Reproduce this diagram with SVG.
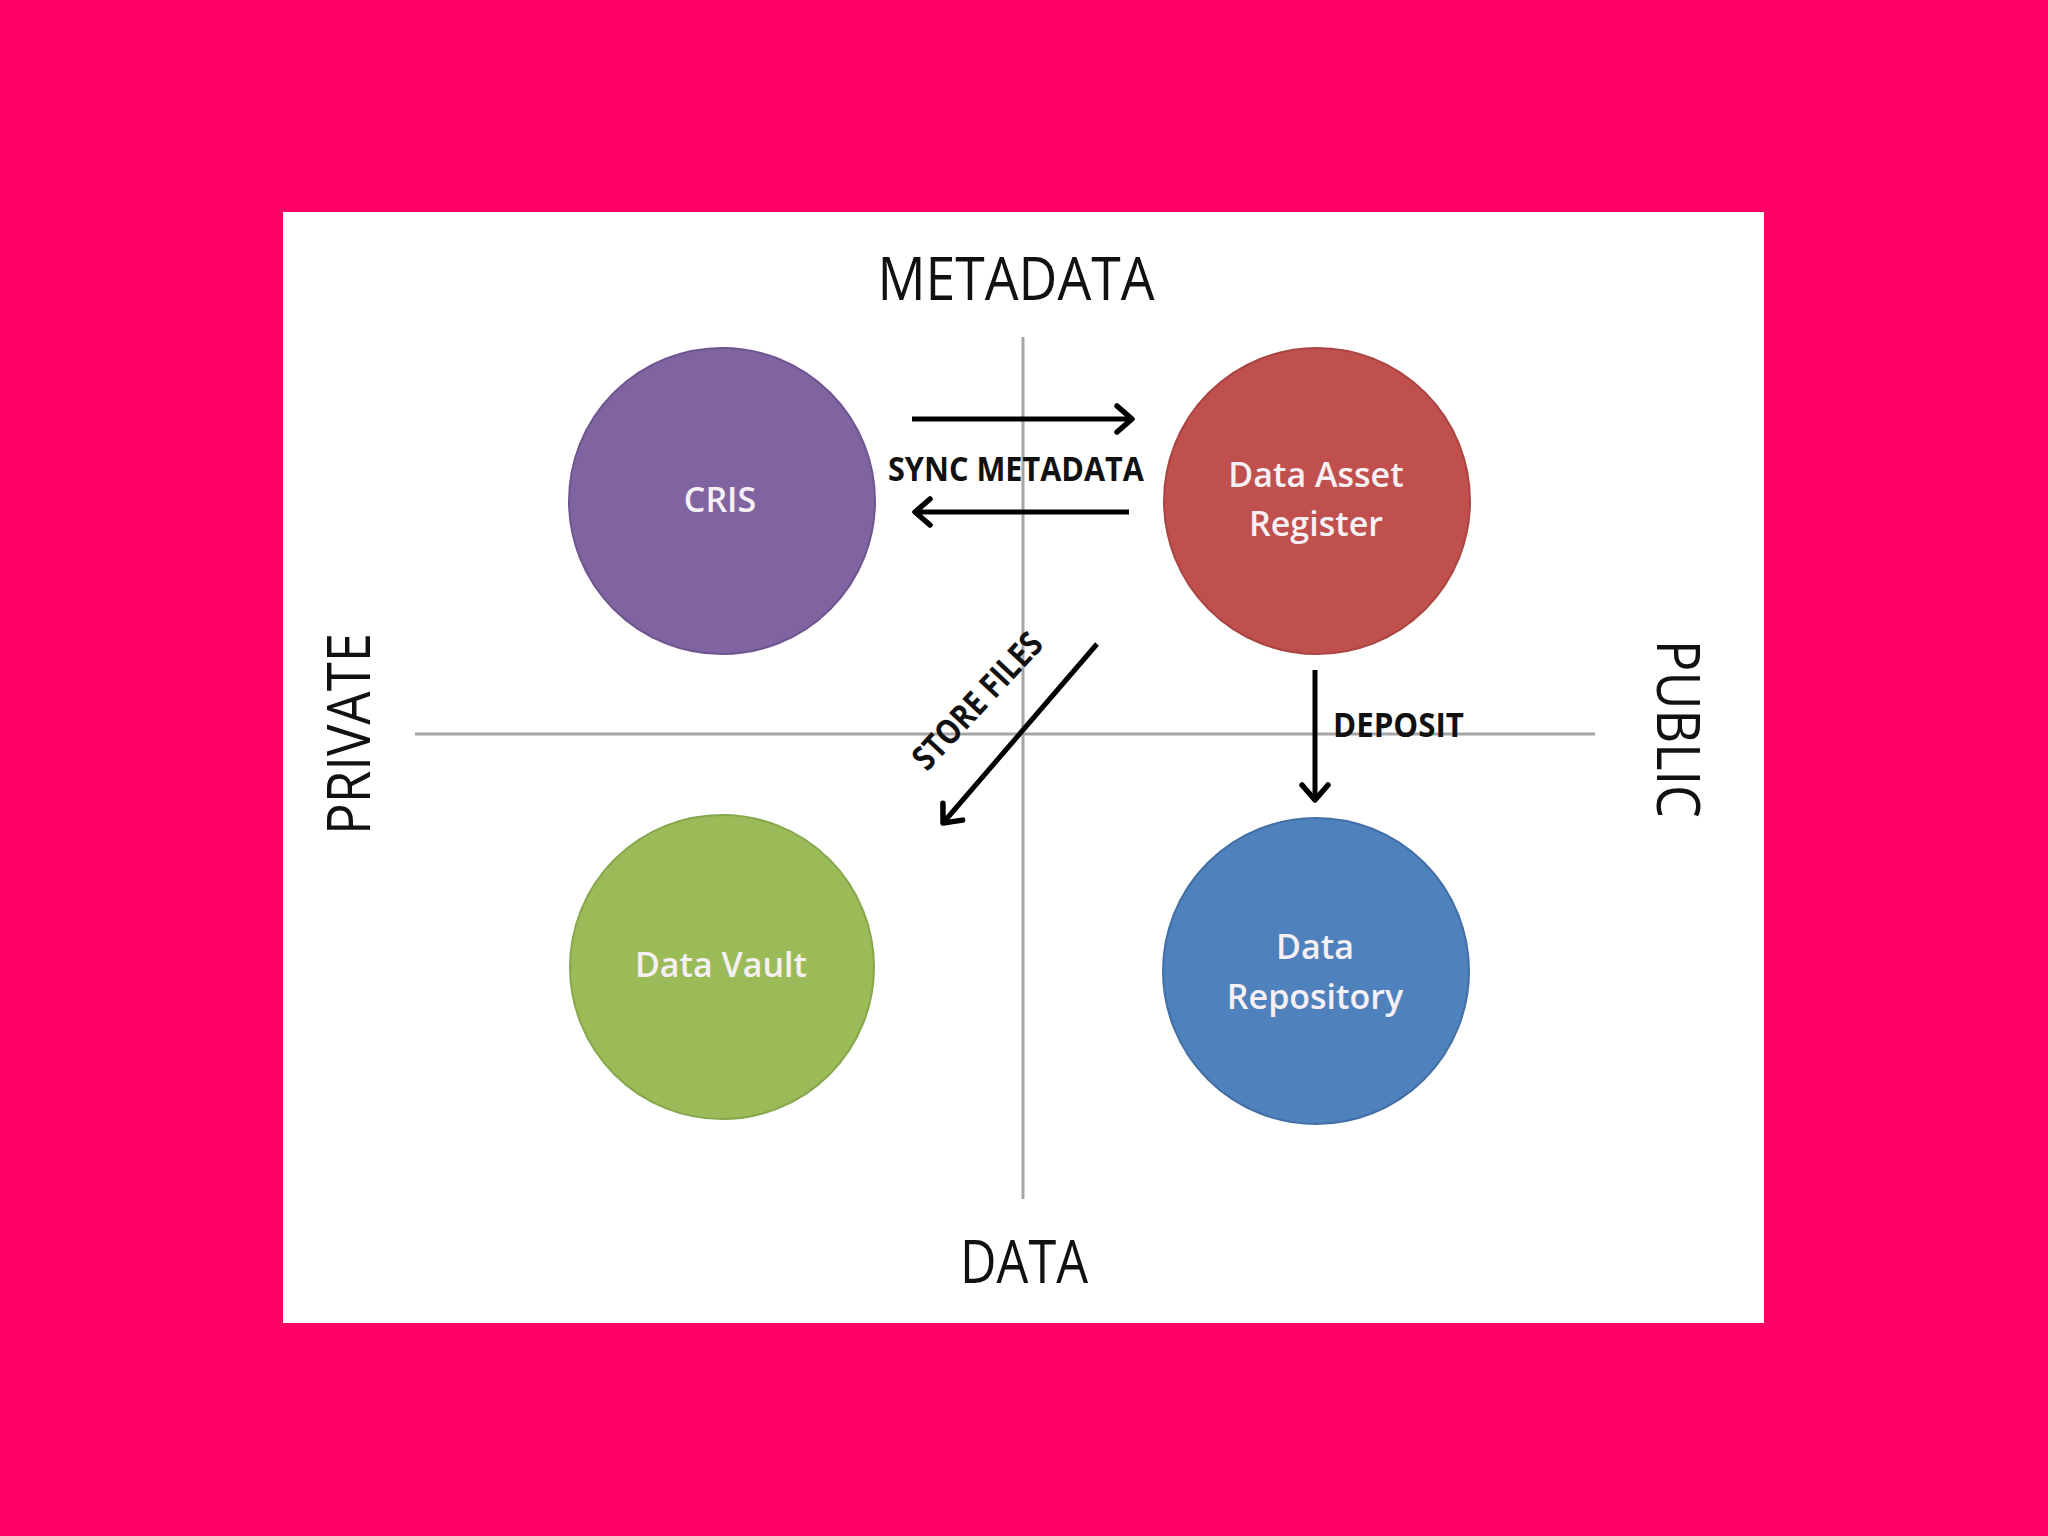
<svg xmlns="http://www.w3.org/2000/svg" width="2048" height="1536" viewBox="0 0 2048 1536">
<style>
.axis{stroke:#a6a6a6;stroke-width:3;fill:none}
.conn{stroke:#000;stroke-width:5;fill:none}
.big{font-family:"Open Sans","Liberation Sans",sans-serif;font-size:60px;fill:#111}
.lbl{font-family:"Open Sans","Liberation Sans",sans-serif;font-weight:bold;font-size:34px;fill:#111}
.node{font-family:"Open Sans","Liberation Sans",sans-serif;font-weight:600;font-size:34px;fill:#f6f0f4;text-anchor:middle}
</style>
<defs>
<marker id="arr" markerUnits="userSpaceOnUse" markerWidth="32" markerHeight="32" viewBox="0 0 32 32" refX="25" refY="16" orient="auto">
<path d="M10,3 L25,16 L10,29" fill="none" stroke="#000" stroke-width="5.5" stroke-linecap="round" stroke-linejoin="round"/>
</marker>
</defs>
<rect width="2048" height="1536" fill="#ff0066"/>
<rect x="283" y="212" width="1481" height="1111" fill="#ffffff"/>
<g id="axes">
<line class="axis" x1="1023" y1="337" x2="1023" y2="1199"/>
<line class="axis" x1="415" y1="734" x2="1595" y2="734"/>
</g>
<g id="axis-labels">
<text class="big" x="1016" y="300" text-anchor="middle" textLength="277" lengthAdjust="spacingAndGlyphs">METADATA</text>
<text class="big" x="1024" y="1283" text-anchor="middle" textLength="128" lengthAdjust="spacingAndGlyphs">DATA</text>
<text class="big" transform="translate(370 734) rotate(-90)" x="0" y="0" text-anchor="middle" textLength="202" lengthAdjust="spacingAndGlyphs">PRIVATE</text>
<text class="big" transform="translate(1657 729) rotate(90)" x="0" y="0" text-anchor="middle" textLength="178" lengthAdjust="spacingAndGlyphs">PUBLIC</text>
</g>
<g id="node-cris">
<circle cx="722" cy="501" r="153" fill="#8064a2" stroke="#6f5590" stroke-width="2"/>
<text class="node" x="720" y="512">CRIS</text>
</g>
<g id="node-dar">
<circle cx="1317" cy="501" r="153" fill="#c0504d" stroke="#a94542" stroke-width="2"/>
<text class="node" x="1316" y="487">Data Asset</text>
<text class="node" x="1316" y="536">Register</text>
</g>
<g id="node-vault">
<circle cx="722" cy="967" r="152" fill="#9bbb59" stroke="#87a74c" stroke-width="2"/>
<text class="node" x="721" y="977">Data Vault</text>
</g>
<g id="node-repo">
<circle cx="1316" cy="971" r="153" fill="#4f81bd" stroke="#426fa6" stroke-width="2"/>
<text class="node" x="1315" y="959">Data</text>
<text class="node" x="1315" y="1009">Repository</text>
</g>
<g id="connectors">
<line class="conn" x1="912" y1="419" x2="1132" y2="419" marker-end="url(#arr)"/>
<line class="conn" x1="1129" y1="512" x2="915" y2="512" marker-end="url(#arr)"/>
<line class="conn" x1="1097" y1="644" x2="943" y2="823" marker-end="url(#arr)"/>
<line class="conn" x1="1315" y1="670" x2="1315" y2="800" marker-end="url(#arr)"/>
</g>
<g id="connector-labels">
<text class="lbl" x="1016" y="481" text-anchor="middle" textLength="256" lengthAdjust="spacingAndGlyphs">SYNC METADATA</text>
<text class="lbl" x="1333" y="737" textLength="131" lengthAdjust="spacingAndGlyphs">DEPOSIT</text>
<text class="lbl" transform="translate(986 709) rotate(-47)" x="0" y="0" text-anchor="middle" textLength="173" lengthAdjust="spacingAndGlyphs">STORE FILES</text>
</g>
</svg>
